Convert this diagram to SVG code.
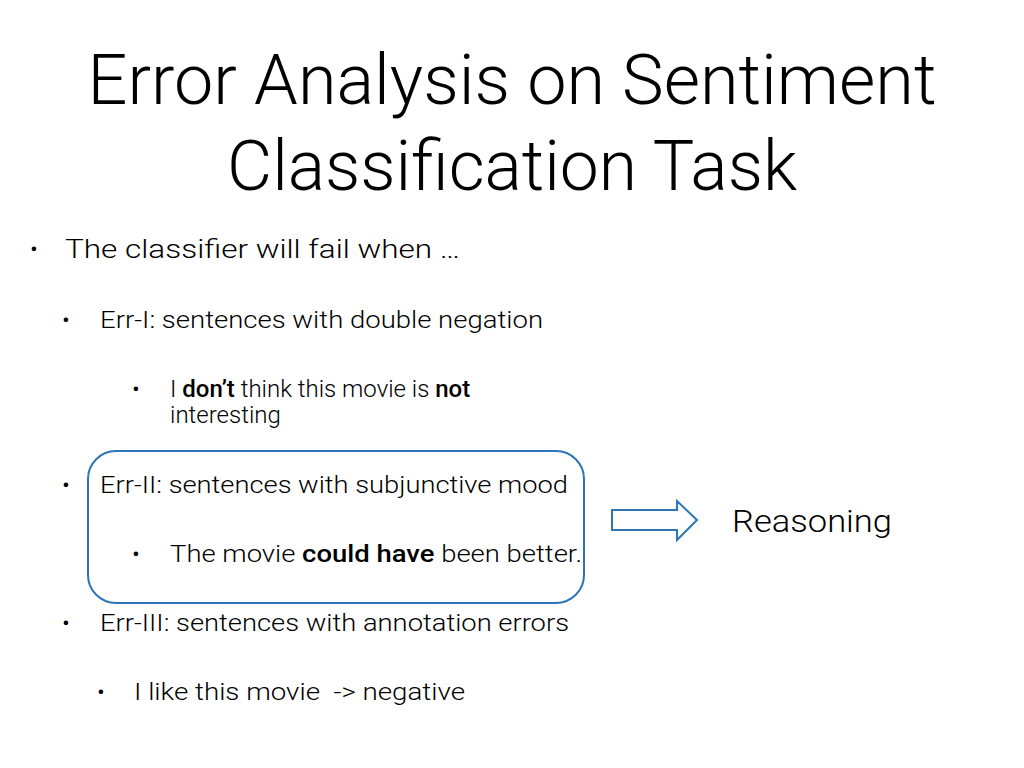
<svg xmlns="http://www.w3.org/2000/svg" width="1024" height="768" viewBox="0 0 1024 768">
<style>
text{font-family:Roboto,"Liberation Sans",sans-serif;font-weight:300;fill:#000}
.t{font-size:70px}
.b{font-size:26px}
.s{font-size:24px}
.bold{font-weight:500}
</style>
<rect width="1024" height="768" fill="#fff"/>
<g id="title">
<text class="t" x="512" y="104" text-anchor="middle" textLength="849" lengthAdjust="spacingAndGlyphs">Error Analysis on Sentiment</text>
<text class="t" x="512" y="190" text-anchor="middle" textLength="570" lengthAdjust="spacingAndGlyphs">Classification Task</text>
</g>
<g id="bullets">
<text class="s" x="30" y="257">•</text>
<text class="b" x="65" y="258" textLength="395" lengthAdjust="spacingAndGlyphs">The classifier will fail when …</text>
<text class="s" x="62" y="328" font-size="18">•</text>
<text class="s" x="100" y="328" textLength="443" lengthAdjust="spacingAndGlyphs">Err-I: sentences with double negation</text>
<text class="s" x="132" y="397" font-size="18">•</text>
<text class="s" x="170" y="397">I <tspan class="bold">don’t</tspan> think this movie is <tspan class="bold">not</tspan></text>
<text class="s" x="170" y="423">interesting</text>
<text class="s" x="62" y="493" font-size="18">•</text>
<text class="s" x="100" y="493" textLength="468" lengthAdjust="spacingAndGlyphs">Err-II: sentences with subjunctive mood</text>
<text class="s" x="132" y="562" font-size="18">•</text>
<text class="s" x="170" y="562" textLength="412" lengthAdjust="spacingAndGlyphs">The movie <tspan class="bold">could have</tspan> been better.</text>
<text class="s" x="62" y="631" font-size="18">•</text>
<text class="s" x="100" y="631" textLength="469" lengthAdjust="spacingAndGlyphs">Err-III: sentences with annotation errors</text>
<text class="s" x="97" y="700" font-size="18">•</text>
<text class="s" x="134" y="700" xml:space="preserve" textLength="331" lengthAdjust="spacingAndGlyphs">I like this movie  -&gt; negative</text>
</g>
<g id="box"><rect x="88" y="451" width="496" height="152" rx="28" fill="none" stroke="#2E75B6" stroke-width="2"/></g>
<g id="connectors"><path d="M612 510 H677 V501 L697 520 L677 540 V530 H612 Z" fill="#fff" stroke="#2E75B6" stroke-width="2"/></g>
<g id="reasoning"><text x="732" y="532" font-size="32" textLength="160" lengthAdjust="spacingAndGlyphs">Reasoning</text></g>
</svg>
